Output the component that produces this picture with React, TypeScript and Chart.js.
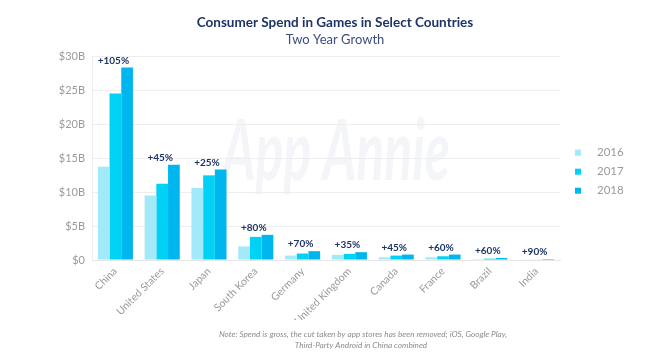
import React, { useEffect, useRef } from "react";
import { Chart, registerables } from "chart.js";

Chart.register(...registerables);

const categories = ["China", "United States", "Japan", "South Korea", "Germany", "United Kingdom", "Canada", "France", "Brazil", "India"];
const spend2016 = [13.7, 9.5, 10.6, 2.0, 0.65, 0.75, 0.4, 0.4, 0.12, 0.05];
const spend2017 = [24.5, 11.2, 12.45, 3.4, 0.95, 0.9, 0.65, 0.55, 0.2, 0.09];
const spend2018 = [28.3, 14.0, 13.3, 3.7, 1.3, 1.15, 0.8, 0.8, 0.3, 0.14];
const growthLabels = ["+105%", "+45%", "+25%", "+80%", "+70%", "+35%", "+45%", "+60%", "+60%", "+90%"];
const seriesNames = ["2016", "2017", "2018"];
const yTicks = [0, 5, 10, 15, 20, 25, 30];

const titleText = "Consumer Spend in Games in Select Countries";
const subtitleText = "Two Year Growth";
const noteLines = [
  "Note: Spend is gross, the cut taken by app stores has been removed; iOS, Google Play,",
  "Third-Party Android in China combined",
];

const COLORS = ["#a2e9fa", "#00d2f6", "#00b6ee"];
const NAVY = "#1d3468";
const FONT = "Lato, 'Open Sans', sans-serif";

const decorPlugin = {
  id: "decor",
  beforeDatasetsDraw(chart: any) {
    const { ctx, chartArea } = chart;
    // faint watermark
    ctx.save();
    ctx.fillStyle = "rgba(236,239,244,0.6)";
    ctx.font = `italic bold 84px ${FONT}`;
    ctx.textBaseline = "alphabetic";
    const w = ctx.measureText("App Annie").width;
    const targetW = 228;
    ctx.translate(chartArea.left + 130, 180);
    ctx.scale(targetW / w, 1);
    ctx.fillText("App Annie", 0, 0);
    ctx.restore();
  },
  afterDatasetsDraw(chart: any) {
    const { ctx, chartArea } = chart;
    ctx.save();
    // growth labels above each group
    ctx.font = `bold 10px ${FONT}`;
    ctx.fillStyle = NAVY;
    ctx.textAlign = "center";
    ctx.textBaseline = "bottom";
    growthLabels.forEach((lab, j) => {
      let top = Infinity;
      let xs = 0;
      for (let d = 0; d < chart.data.datasets.length; d++) {
        const el = chart.getDatasetMeta(d).data[j];
        top = Math.min(top, el.y);
        xs += el.x;
      }
      const cx = xs / chart.data.datasets.length - 2;
      ctx.fillText(lab, cx, top - 2);
    });

    // title & subtitle
    ctx.textAlign = "center";
    ctx.textBaseline = "middle";
    ctx.fillStyle = NAVY;
    ctx.font = `bold 13.5px ${FONT}`;
    ctx.fillText(titleText, 335, 23);
    ctx.fillStyle = "#3d4d7d";
    ctx.font = `13px ${FONT}`;
    ctx.fillText(subtitleText, 335, 39.5);

    // legend
    const lx = chartArea.right + 15;
    chart.data.datasets.forEach((ds: any, i: number) => {
      const cy = 152.7 + i * 19;
      ctx.fillStyle = ds.backgroundColor;
      ctx.fillRect(lx, cy - 3, 6, 6);
      ctx.fillStyle = "#9a9a9a";
      ctx.font = `11.5px ${FONT}`;
      ctx.textAlign = "left";
      ctx.fillText(ds.label, lx + 22, cy);
    });

    // note
    ctx.fillStyle = "#8c8c8c";
    ctx.font = `italic 8.2px ${FONT}`;
    ctx.textAlign = "center";
    ctx.fillText(noteLines[0], 363, 334);
    ctx.fillText(noteLines[1], 361, 345);
    ctx.restore();
  },
};

export default function App() {
  const ref = useRef<HTMLCanvasElement | null>(null);
  useEffect(() => {
    if (!ref.current) return;
    const chart = new Chart(ref.current, {
      type: "bar",
      data: {
        labels: categories,
        datasets: [spend2016, spend2017, spend2018].map((vals, i) => ({
          label: seriesNames[i],
          data: vals,
          backgroundColor: COLORS[i],
          borderWidth: 0,
          barPercentage: 1,
          categoryPercentage: 0.75,
        })),
      },
      options: {
        animation: false,
        responsive: true,
        maintainAspectRatio: false,
        layout: { padding: { top: 56, bottom: 37, left: 0, right: 112 } },
        plugins: {
          legend: { display: false },
          title: { display: false },
          tooltip: { enabled: false },
        },
        scales: {
          x: {
            grid: { display: false, drawTicks: false },
            border: { display: true, color: "#e6e6e6" },
            ticks: {
              minRotation: 45,
              maxRotation: 45,
              autoSkip: false,
              padding: 5,
              color: "#9a9a9a",
              font: { family: FONT, size: 10.5 },
            },
            afterFit: (scale: any) => {
              scale.height = 60;
            },
          },
          y: {
            min: 0,
            max: 30,
            afterBuildTicks: (scale: any) => {
              scale.ticks = yTicks.map((v) => ({ value: v }));
            },
            grid: { color: "#eeeeee", drawTicks: false },
            border: { display: true, color: "#eeeeee" },
            ticks: {
              padding: 7,
              color: "#9a9a9a",
              font: { family: FONT, size: 11 },
              callback: (v: any) => (v === 0 ? "$0" : `$${v}B`),
            },
            afterFit: (scale: any) => {
              scale.width = 92;
            },
          },
        },
      },
      plugins: [decorPlugin],
    });
    return () => chart.destroy();
  }, []);
  return (
    <div style={{ position: "fixed", left: 0, top: 0, width: 672, height: 357, background: "#fff" }}>
      <canvas ref={ref} />
    </div>
  );
}
